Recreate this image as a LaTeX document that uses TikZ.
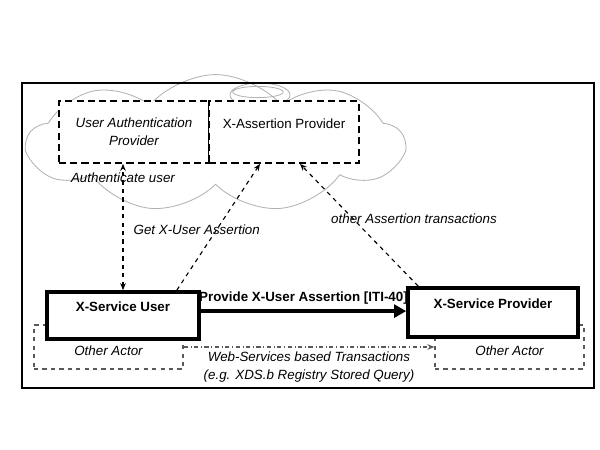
\documentclass[tikz,border=0pt]{standalone}
\usepackage{fontspec}
\setmainfont{Liberation Sans}
\usetikzlibrary{arrows.meta,shapes.symbols}

\begin{document}
\begin{tikzpicture}[x=1cm,y=1cm,>={Stealth[length=5pt,width=4pt]},
  every node/.style={font=\fontsize{9.5}{12.5}\selectfont},
  lbl/.style={font=\fontsize{9.5}{12.5}\selectfont\itshape},
  provider/.style={draw,dash pattern=on 5pt off 3pt,line width=1.2pt,fill=white,minimum width=3.75cm,minimum height=1.55cm,inner sep=0pt,align=center},
  actor/.style={draw,line width=2.6pt,fill=white,inner sep=0pt,align=center,font=\fontsize{9.5}{12.5}\selectfont\bfseries},
  other/.style={draw=black!65,dashed,line width=0.9pt,minimum width=3.725cm,minimum height=1.1cm,inner sep=0pt,align=center,lbl},
  flow/.style={dashed,line width=0.8pt}]
\useasboundingbox (0,0) rectangle (15,11.25);
% cloud behind the two providers
\node[draw=black!30,line width=0.6pt,cloud,cloud puffs=9,cloud puff arc=100,cloud ignores aspect,minimum width=9.4cm,minimum height=3.45cm] (cloud) at (5.39,7.66){};
\draw[black!30,line width=0.6pt] (6.5,8.875) ellipse (0.75 and 0.3) (6.45,8.95) ellipse (0.63 and 0.14);
\draw[line width=2pt] (0.55,1.55) rectangle (14.85,9.175);
\node[provider,lbl] (uap) at (3.35,7.95){User Authentication\\Provider};
\node[provider] (xap) at (7.1,7.95){X-Assertion Provider\\\mbox{}};
\node[other] (oal) at (2.7125,2.575){\mbox{}\\Other Actor};
\node[other] (oar) at (12.7375,2.575){\mbox{}\\Other Actor};
\node[actor,minimum width=3.8cm,minimum height=1.175cm] (xsu) at (3.075,3.3625){X-Service User\\\mbox{}};
\node[actor,minimum width=4.25cm,minimum height=1.225cm] (xsp) at (12.325,3.4375){X-Service Provider\\\mbox{}};
\draw[flow,<->] (xsu.north) -- (xsu.north |- uap.south) node[lbl,pos=0.89]{Authenticate user};
\draw[flow,->] ([xshift=-0.6cm]xsu.north east) -- ([xshift=-0.6cm]xap.south) node[lbl,pos=0.48,xshift=-0.5cm]{Get X-User Assertion};
\draw[flow,->] ([xshift=0.3cm]xsp.north west) -- ([xshift=0.4cm]xap.south) node[lbl,pos=0.55,xshift=1.52cm]{other Assertion transactions};
\draw[line width=2.6pt,-{Triangle[length=3mm,width=3.2mm]}] ([yshift=0.11cm]xsu.east) -- ([yshift=0.11cm]xsu.east -| xsp.west) node[midway,above,font=\fontsize{9.5}{12.5}\selectfont\bfseries]{Provide X-User Assertion [ITI-40]};
\draw[black!65,dash dot,line width=0.9pt,->] (oal.east) -- (oar.west) node[lbl,midway,below,align=center,text=black]{Web-Services based Transactions\\(e.g. XDS.b Registry Stored Query)};
\end{tikzpicture}
\end{document}
